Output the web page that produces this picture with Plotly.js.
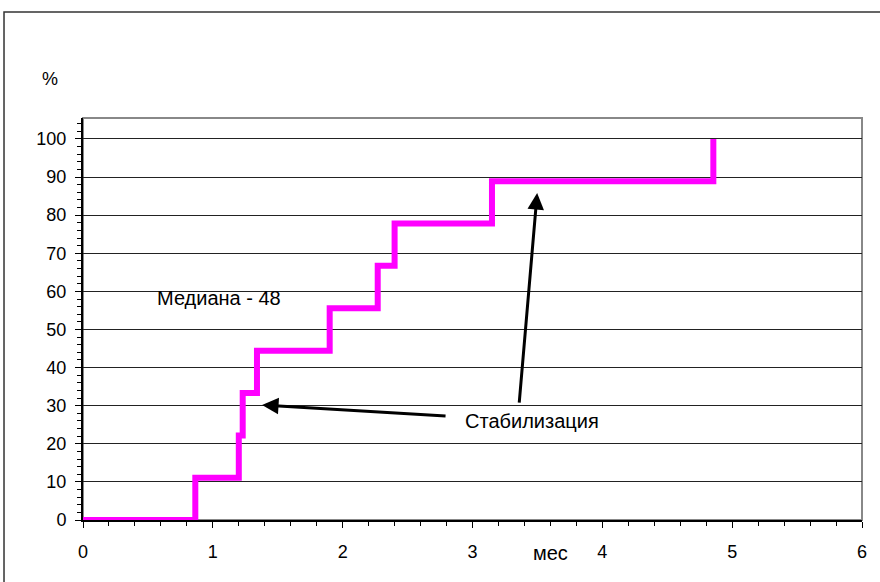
<!DOCTYPE html>
<html>
<head>
<meta charset="utf-8">
<script src="https://cdn.plot.ly/plotly-3.0.1.min.js"></script>
<style>html,body{margin:0;padding:0;background:#fff;}</style>
</head>
<body>
<div id="chart" style="width:880px;height:582px;"></div>
<script>
// Step curve: months (x) and cumulative percent (y)
var months = [0, 0.865, 1.2, 1.23, 1.34, 1.9, 2.27, 2.4, 3.15, 4.855];
var percent = [0, 11.1, 22.2, 33.3, 44.4, 55.6, 66.7, 77.8, 88.9, 100];
var xTicks = [0, 1, 2, 3, 4, 5, 6];
var yTicks = [0, 10, 20, 30, 40, 50, 60, 70, 80, 90, 100];
var medianLabel = 'Медиана - 48';
var stabLabel = 'Стабилизация';
var xUnit = 'мес';
var yUnit = '%';
// arrow endpoints (data coords): [headX, headY, tailX, tailY]
var arrow1 = [1.379, 30.2, 2.804, 27.3];
var arrow2 = [3.498, 85.8, 3.359, 30.4];

var fam = 'Liberation Sans, Arial, sans-serif';
var tickFont = {family: fam, size: 18, color: '#000'};
var textFont = {family: fam, size: 20, color: '#000'};

var trace = {
  x: months, y: percent, type: 'scatter', mode: 'lines',
  line: {shape: 'hv', color: '#ff00ff', width: 6},
  hoverinfo: 'skip'
};

function arrowAnn(a) {
  return {x: a[0], y: a[1], ax: a[2], ay: a[3], xref: 'x', yref: 'y', axref: 'x', ayref: 'y',
    text: '', showarrow: true, arrowhead: 2, arrowsize: 1.1, arrowwidth: 3, arrowcolor: '#000', standoff: 0};
}

var layout = {
  width: 880, height: 582,
  margin: {l: 83, r: 18, t: 118, b: 62},
  paper_bgcolor: '#fff', plot_bgcolor: '#fff',
  font: tickFont,
  showlegend: false,
  xaxis: {
    range: [0, 6], tickvals: xTicks, ticktext: xTicks.map(String),
    showgrid: false, zeroline: false,
    showline: true, linecolor: '#000', linewidth: 2,
    ticks: 'outside', ticklen: 6, tickwidth: 1, tickcolor: '#000',
    ticklabelstandoff: 8,
    minor: {dtick: 0.2, ticks: 'outside', ticklen: 4, tickcolor: '#000', showgrid: false},
    tickfont: tickFont, fixedrange: true
  },
  yaxis: {
    range: [0, 105.5], tickvals: yTicks, ticktext: yTicks.map(String),
    showgrid: true, gridcolor: '#222', gridwidth: 1, zeroline: false,
    showline: true, linecolor: '#000', linewidth: 2,
    ticks: 'outside', ticklen: 6, tickwidth: 1, tickcolor: '#000',
    ticklabelstandoff: 5,
    minor: {dtick: 2, ticks: 'outside', ticklen: 4, tickcolor: '#000', showgrid: false},
    tickfont: tickFont, fixedrange: true
  },
  shapes: [
    {type: 'rect', xref: 'paper', yref: 'paper', x0: 0, x1: 1, y0: 0, y1: 1,
     line: {color: '#888', width: 2}, layer: 'below'},
    {type: 'rect', xref: 'paper', yref: 'paper', x0: -0.1014, x1: 1.2, y0: -0.5, y1: 1.2637,
     line: {color: '#333', width: 1.5}, fillcolor: 'rgba(0,0,0,0)', layer: 'below'}
  ],
  annotations: [
    {x: 0.555, y: 58.3, xref: 'x', yref: 'y', text: medianLabel, showarrow: false,
     xanchor: 'left', yanchor: 'middle', font: textFont},
    {x: 2.93, y: 26.0, xref: 'x', yref: 'y', text: stabLabel, showarrow: false,
     xanchor: 'left', yanchor: 'middle', font: textFont},
    arrowAnn(arrow1), arrowAnn(arrow2),
    {x: -0.042, y: 1.097, xref: 'paper', yref: 'paper', text: yUnit, showarrow: false,
     xanchor: 'center', yanchor: 'middle', font: tickFont},
    {x: 0.5995, y: -0.083, xref: 'paper', yref: 'paper', text: xUnit, showarrow: false,
     xanchor: 'center', yanchor: 'middle', font: textFont}
  ]
};

Plotly.newPlot('chart', [trace], layout, {displayModeBar: false, staticPlot: true});
</script>
</body>
</html>
